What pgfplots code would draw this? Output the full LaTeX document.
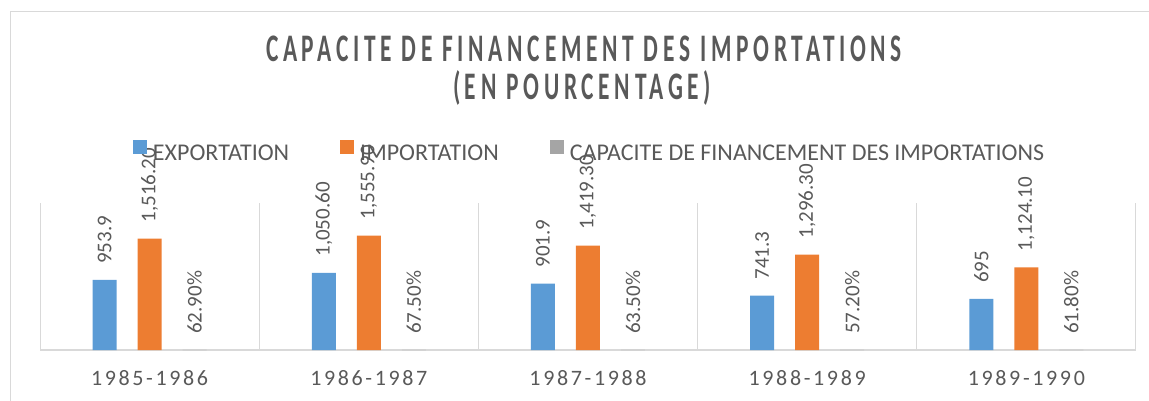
\documentclass[border=0pt]{standalone}
\usepackage{fontspec}
\setmainfont{Carlito}
\newfontfamily\tickfont{Carlito}[LetterSpace=12]
\newfontfamily\titlefont{Carlito}[LetterSpace=20]
\usepackage{pgfplots}
\pgfplotsset{compat=1.18}
\definecolor{txt}{HTML}{595959}
\definecolor{gridc}{HTML}{D9D9D9}
\definecolor{cblue}{HTML}{5B9BD5}
\definecolor{corange}{HTML}{ED7D31}
\definecolor{cgray}{HTML}{A5A5A5}
\pgfplotsset{sq legend/.style={legend image code/.code={\fill[##1] (0pt,0pt) rectangle (14pt,14pt);}}}
\begin{document}
\begin{tikzpicture}
\useasboundingbox (0pt,0pt) rectangle (1149pt,400pt);
\draw[gridc, line width=1pt] (10pt,-5pt) -- (10pt,388pt) -- (1160pt,388pt);
\node[txt, anchor=base, inner sep=0pt] at (584pt,338pt) {\scalebox{0.6}[1]{\fontsize{39}{46}\titlefont\bfseries CAPACITE DE FINANCEMENT DES IMPORTATIONS}};
\node[txt, anchor=base, inner sep=0pt] at (582pt,301pt) {\scalebox{0.6}[1]{\fontsize{39}{46}\titlefont\bfseries (EN POURCENTAGE)}};
\begin{axis}[
  scale only axis, width=1096pt, height=147pt,
  at={(40pt,50pt)}, anchor=south west,
  ybar=21pt, bar width=24pt,
  xmin=-0.5, xmax=4.5, ymin=0, ymax=2000,
  clip=false,
  axis x line*=bottom, axis y line=none, ytick=\empty,
  x axis line style={gridc, line width=1.5pt},
  xtick={0,1,2,3,4},
  xticklabels={1985-1986,1986-1987,1987-1988,1988-1989,1989-1990},
  major tick length=0pt,
  minor xtick={-0.5,0.5,1.5,2.5,3.5,4.5},
  minor tick length=0pt,
  xminorgrids=true,
  minor grid style={gridc, line width=1pt},
  xticklabel style={font=\fontsize{22}{26}\tickfont, text=txt, inner sep=0pt, anchor=north},
  xticklabel shift=20pt,
  point meta=explicit symbolic,
  nodes near coords={\pgfplotspointmeta},
  every node near coord/.append style={font=\fontsize{21}{25}\selectfont, text=txt, rotate=90, anchor=west, inner xsep=16pt, inner ysep=0pt},
  legend columns=3,
  legend cell align=left,
  legend style={at={(0.08485,1.3537)}, anchor=west, draw=none, fill=none,
    inner sep=0pt, outer sep=0pt,
    font=\fontsize{24}{28}\selectfont, text=txt,
    /tikz/every odd column/.append style={column sep=3pt},
    /tikz/every even column/.append style={column sep=48pt},
    nodes={inner xsep=3pt, inner ysep=0pt}},
]
\addplot[fill=cblue, draw=none, sq legend]
  coordinates {(0,953.9) [953.9] (1,1050.6) [1{,}050.60] (2,901.9) [901.9] (3,741.3) [741.3] (4,695) [695]};
\addplot[fill=corange, draw=none, sq legend]
  coordinates {(0,1516.2) [1{,}516.20] (1,1555.9) [1{,}555.90] (2,1419.3) [1{,}419.30] (3,1296.3) [1{,}296.30] (4,1124.1) [1{,}124.10]};
\addplot[fill=cgray, draw=none, sq legend]
  coordinates {(0,0.629) [62.90\%] (1,0.675) [67.50\%] (2,0.635) [63.50\%] (3,0.572) [57.20\%] (4,0.618) [61.80\%]};
\legend{EXPORTATION,IMPORTATION,CAPACITE DE FINANCEMENT DES IMPORTATIONS}
\end{axis}
\end{tikzpicture}
\end{document}
